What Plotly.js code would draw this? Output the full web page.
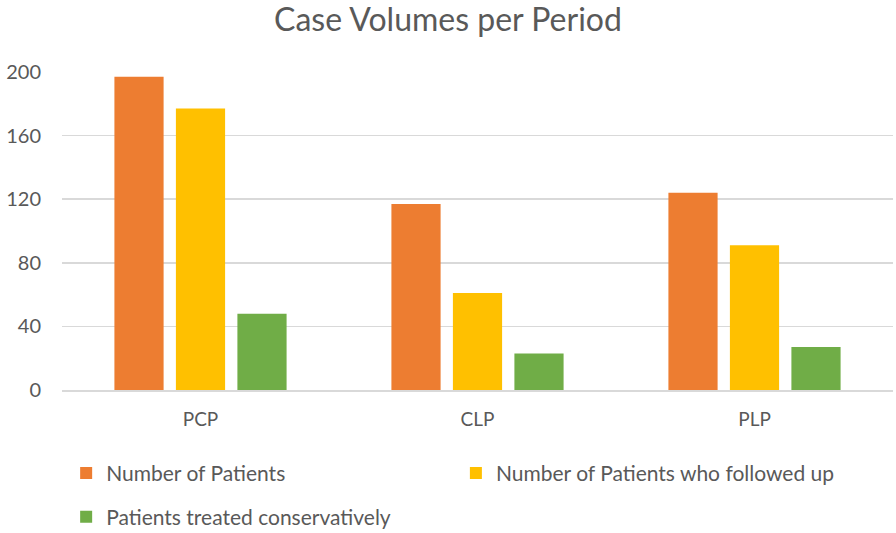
<!DOCTYPE html>
<html>
<head>
<meta charset="utf-8">
<script src="https://cdn.plot.ly/plotly-3.0.1.min.js"></script>
<style>html,body{margin:0;padding:0;background:#fff;}#chart{width:896px;height:533px;}</style>
</head>
<body>
<div id="chart"></div>
<script>
const categories = ["PCP", "CLP", "PLP"];
const numberOfPatients = [197, 117, 124];
const followedUp = [177, 61, 91];
const treatedConservatively = [48, 23, 27];
const seriesNames = ["Number of Patients", "Number of Patients who followed up", "Patients treated conservatively"];
const yTicks = [0, 40, 80, 120, 160, 200];

const FONT = "Lato, 'Open Sans', sans-serif";
const TXT = "#595959";

const traces = [
  {type: "bar", x: categories, y: numberOfPatients, name: seriesNames[0], marker: {color: "#ED7D31"}, legend: "legend"},
  {type: "bar", x: categories, y: followedUp, name: seriesNames[1], marker: {color: "#FFC000"}, legend: "legend3"},
  {type: "bar", x: categories, y: treatedConservatively, name: seriesNames[2], marker: {color: "#70AD47"}, legend: "legend2"}
];

const legendBase = {orientation: "h", xanchor: "left", yanchor: "middle", xref: "paper", font: {size: 21, color: TXT}, itemwidth: 30, bgcolor: "rgba(0,0,0,0)"};

const layout = {
  width: 896, height: 533,
  margin: {l: 62, r: 3, t: 72, b: 143, autoexpand: false},
  paper_bgcolor: "#fff", plot_bgcolor: "#fff",
  font: {family: FONT, color: TXT, size: 20},
  title: {text: "Case Volumes per Period", x: 0.5, xanchor: "center", y: 0.962, yanchor: "middle", font: {family: FONT, size: 32, color: TXT}},
  barmode: "group", bargap: 0.334, bargroupgap: 0.2,
  xaxis: {type: "category", showgrid: false, showline: true, linecolor: "#D9D9D9", linewidth: 1.5, ticks: "", tickfont: {size: 19, color: TXT}, ticklabelstandoff: 12},
  yaxis: {range: [0, 200], tickvals: yTicks, showgrid: true, gridcolor: "#D9D9D9", gridwidth: 1.5, zeroline: false, showline: false, ticks: "", tickfont: {size: 20, color: TXT}, ticklabelstandoff: 20},
  showlegend: true,
  legend: Object.assign({}, legendBase, {x: 0.005, y: -0.262}),
  legend3: Object.assign({}, legendBase, {x: 0.474, y: -0.262}),
  legend2: Object.assign({}, legendBase, {x: 0.005, y: -0.4})
};

Plotly.newPlot("chart", traces, layout, {displayModeBar: false, staticPlot: true});
</script>
</body>
</html>
